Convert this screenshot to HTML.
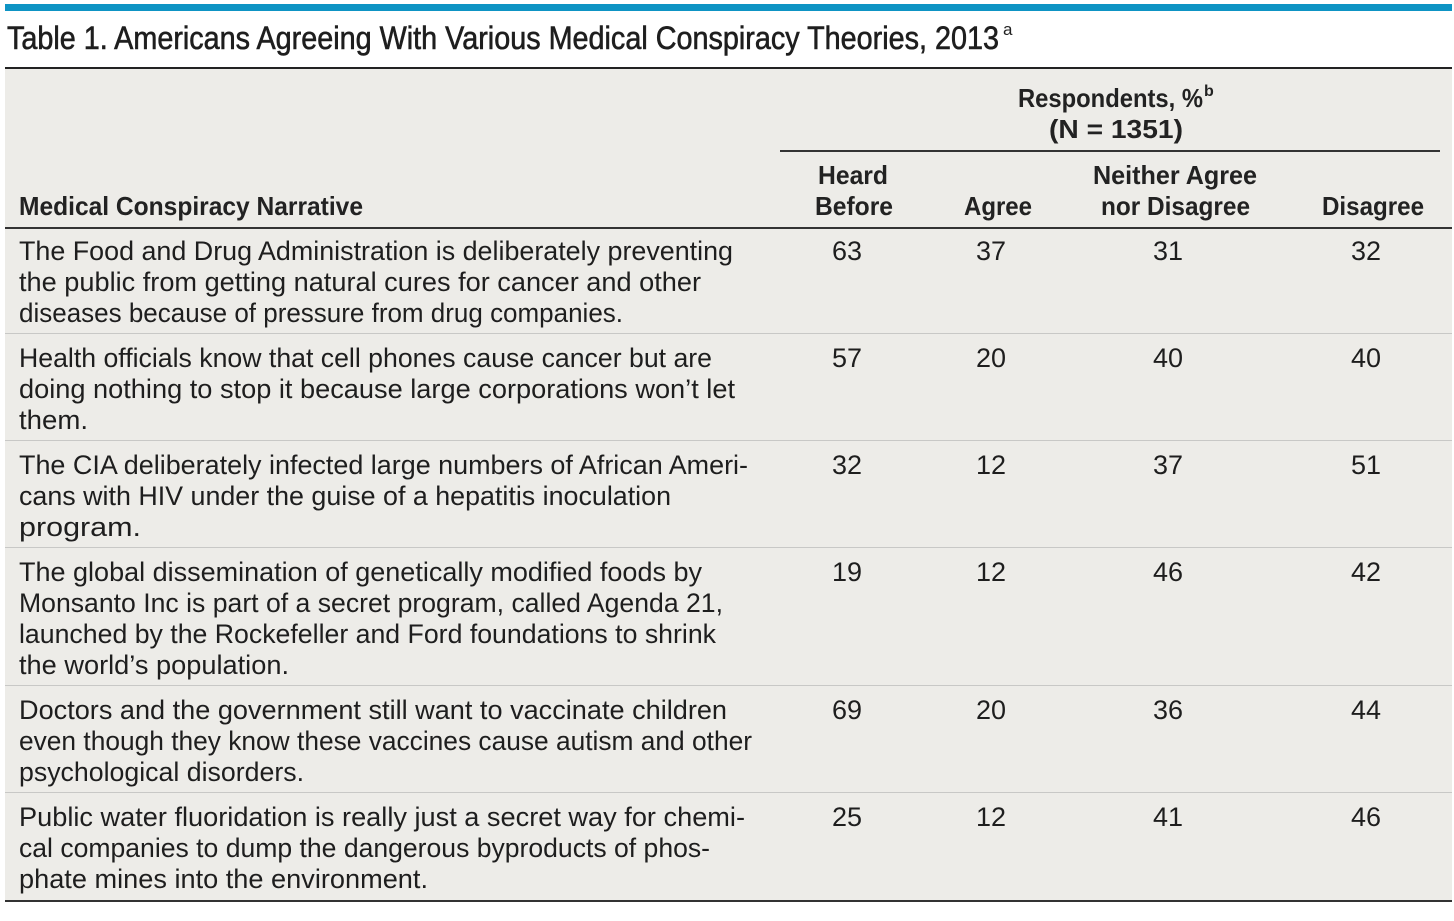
<!DOCTYPE html>
<html><head><meta charset="utf-8"><style>
html,body{margin:0;padding:0;background:#fff;}
svg{display:block;font-family:"Liberation Sans",sans-serif;}
.b{font-size:27px;fill:#1e1e1e;}
.h{font-size:26px;fill:#222;font-weight:bold;}
.n{font-size:27px;fill:#1e1e1e;text-anchor:middle;}
</style></head><body>
<svg width="1454" height="921" xmlns="http://www.w3.org/2000/svg">
<rect x="5" y="4" width="1447" height="7" fill="#0e94c4"/>
<text x="7" y="49" font-size="32" fill="#1e1e1e" stroke="#1e1e1e" stroke-width="0.6" textLength="992" lengthAdjust="spacingAndGlyphs">Table 1. Americans Agreeing With Various Medical Conspiracy Theories, 2013</text>
<text x="1003" y="35" font-size="17" fill="#222">a</text>
<rect x="5" y="69" width="1447" height="832" fill="#edece8"/>
<rect x="5" y="67" width="1447" height="2" fill="#222"/>
<rect x="780" y="150" width="660" height="2" fill="#333"/>
<rect x="5" y="227" width="1447" height="2" fill="#333"/>
<g fill="#c8c8c6">
<rect x="5" y="333" width="1447" height="1"/>
<rect x="5" y="440" width="1447" height="1"/>
<rect x="5" y="547" width="1447" height="1"/>
<rect x="5" y="685" width="1447" height="1"/>
<rect x="5" y="792" width="1447" height="1"/>
</g>
<rect x="5" y="900" width="1447" height="2" fill="#333"/>

<text class="h" x="1018" y="107" textLength="185" lengthAdjust="spacingAndGlyphs">Respondents, %</text>
<text x="1204" y="96" font-size="16" fill="#222" font-weight="bold">b</text>
<text class="h" x="1049" y="138" textLength="134" lengthAdjust="spacingAndGlyphs">(N = 1351)</text>
<text class="h" x="818" y="184" textLength="70" lengthAdjust="spacingAndGlyphs">Heard</text>
<text class="h" x="815" y="215" textLength="78" lengthAdjust="spacingAndGlyphs">Before</text>
<text class="h" x="964" y="215" textLength="68" lengthAdjust="spacingAndGlyphs">Agree</text>
<text class="h" x="1093" y="184" textLength="164" lengthAdjust="spacingAndGlyphs">Neither Agree</text>
<text class="h" x="1101" y="215" textLength="149" lengthAdjust="spacingAndGlyphs">nor Disagree</text>
<text class="h" x="1322" y="215" textLength="102" lengthAdjust="spacingAndGlyphs">Disagree</text>
<text class="h" x="19" y="215" textLength="344" lengthAdjust="spacingAndGlyphs">Medical Conspiracy Narrative</text>

<text class="b" x="19" y="260" textLength="714" lengthAdjust="spacingAndGlyphs">The Food and Drug Administration is deliberately preventing</text>
<text class="b" x="19" y="291" textLength="682" lengthAdjust="spacingAndGlyphs">the public from getting natural cures for cancer and other</text>
<text class="b" x="19" y="322" textLength="604" lengthAdjust="spacingAndGlyphs">diseases because of pressure from drug companies.</text>
<text class="b" x="19" y="367" textLength="693" lengthAdjust="spacingAndGlyphs">Health officials know that cell phones cause cancer but are</text>
<text class="b" x="19" y="398" textLength="716" lengthAdjust="spacingAndGlyphs">doing nothing to stop it because large corporations won’t let</text>
<text class="b" x="19" y="429" textLength="69" lengthAdjust="spacingAndGlyphs">them.</text>
<text class="b" x="19" y="474" textLength="729" lengthAdjust="spacingAndGlyphs">The CIA deliberately infected large numbers of African Ameri-</text>
<text class="b" x="19" y="505" textLength="652" lengthAdjust="spacingAndGlyphs">cans with HIV under the guise of a hepatitis inoculation</text>
<text class="b" x="19" y="536" textLength="122" lengthAdjust="spacingAndGlyphs">program.</text>
<text class="b" x="19" y="581" textLength="683" lengthAdjust="spacingAndGlyphs">The global dissemination of genetically modified foods by</text>
<text class="b" x="19" y="612" textLength="704" lengthAdjust="spacingAndGlyphs">Monsanto Inc is part of a secret program, called Agenda 21,</text>
<text class="b" x="19" y="643" textLength="697" lengthAdjust="spacingAndGlyphs">launched by the Rockefeller and Ford foundations to shrink</text>
<text class="b" x="19" y="674" textLength="270" lengthAdjust="spacingAndGlyphs">the world’s population.</text>
<text class="b" x="19" y="719" textLength="708" lengthAdjust="spacingAndGlyphs">Doctors and the government still want to vaccinate children</text>
<text class="b" x="19" y="750" textLength="733" lengthAdjust="spacingAndGlyphs">even though they know these vaccines cause autism and other</text>
<text class="b" x="19" y="781" textLength="285" lengthAdjust="spacingAndGlyphs">psychological disorders.</text>
<text class="b" x="19" y="826" textLength="726" lengthAdjust="spacingAndGlyphs">Public water fluoridation is really just a secret way for chemi-</text>
<text class="b" x="19" y="857" textLength="691" lengthAdjust="spacingAndGlyphs">cal companies to dump the dangerous byproducts of phos-</text>
<text class="b" x="19" y="888" textLength="409" lengthAdjust="spacingAndGlyphs">phate mines into the environment.</text>

<text class="n" x="847" y="260">63</text><text class="n" x="991" y="260">37</text><text class="n" x="1168" y="260">31</text><text class="n" x="1366" y="260">32</text>
<text class="n" x="847" y="367">57</text><text class="n" x="991" y="367">20</text><text class="n" x="1168" y="367">40</text><text class="n" x="1366" y="367">40</text>
<text class="n" x="847" y="474">32</text><text class="n" x="991" y="474">12</text><text class="n" x="1168" y="474">37</text><text class="n" x="1366" y="474">51</text>
<text class="n" x="847" y="581">19</text><text class="n" x="991" y="581">12</text><text class="n" x="1168" y="581">46</text><text class="n" x="1366" y="581">42</text>
<text class="n" x="847" y="719">69</text><text class="n" x="991" y="719">20</text><text class="n" x="1168" y="719">36</text><text class="n" x="1366" y="719">44</text>
<text class="n" x="847" y="826">25</text><text class="n" x="991" y="826">12</text><text class="n" x="1168" y="826">41</text><text class="n" x="1366" y="826">46</text>
</svg>
</body></html>
